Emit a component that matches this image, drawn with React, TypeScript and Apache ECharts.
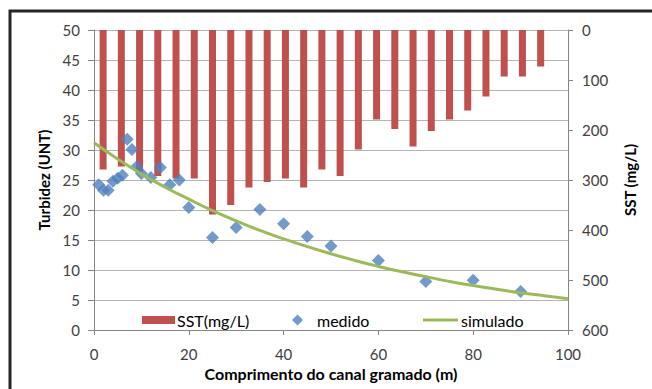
import React, { useEffect, useRef } from "react";
import * as echarts from "echarts";

// SST bars (secondary, inverted axis) — 26 slots, last one empty
const sstSlots = Array.from({ length: 26 }, (_, i) => String(i + 1));
const sstValues: (number | null)[] = [
  279, 273, 283, 292, 297, 297, 369, 350, 315, 304, 297, 315, 279,
  292, 239, 179, 198, 233, 202, 179, 161, 133, 93, 93, 73, null,
];

// medido (turbidity measured)
const medidoX = [1, 2, 3, 4, 5, 6, 7, 8, 9, 10, 12, 14, 16, 18, 20, 25, 30, 35, 40, 45, 50, 60, 70, 80, 90];
const medidoY = [24.2, 23.3, 23.3, 24.8, 25.3, 25.8, 31.8, 30.1, 27.2, 26.1, 25.4, 27.1, 24.2, 25.0, 20.4, 15.4, 17.1, 20.1, 17.7, 15.6, 14.0, 11.6, 8.1, 8.3, 6.4];

// simulado (turbidity simulated)
const simuladoX = [0, 5, 10, 15, 20, 25, 30, 35, 40, 45, 50, 55, 60, 65, 70, 75, 80, 85, 90, 95, 100];
const simuladoY = [31.2, 28.5, 26.0, 23.8, 21.8, 19.9, 18.2, 16.6, 15.2, 13.9, 12.7, 11.6, 10.6, 9.7, 8.9, 8.1, 7.4, 6.8, 6.2, 5.7, 5.2];

const FONT = "Lato";

export default function App() {
  const ref = useRef<HTMLDivElement>(null);
  useEffect(() => {
    if (!ref.current) return;
    const chart = echarts.init(ref.current, undefined, { renderer: "svg" });
    const labelStyle = { fontFamily: FONT, fontSize: 15, color: "#404040" };
    const legendBase = {
      top: 307,
      itemWidth: 33,
      itemHeight: 11,
      symbolKeepAspect: true,
    };
    chart.setOption({
      animation: false,
      backgroundColor: "#ffffff",
      graphic: [
        {
          type: "rect",
          shape: { x: 10, y: 11, width: 700, height: 420 },
          style: { fill: "none", stroke: "#262626", lineWidth: 3 },
          silent: true,
        },
      ],
      grid: { left: 94, right: 84, top: 30, bottom: 59, containLabel: false },
      legend: [
        {
          ...legendBase,
          left: 137,
          textStyle: { fontFamily: FONT, fontSize: 16, color: "#000", padding: [0, 0, 0, -3] },
          data: [{ name: "SST(mg/L)", icon: "path://M0,0h33v8h-33z", itemStyle: { color: "#c0504d" } }],
        },
        {
          ...legendBase,
          left: 287,
          textStyle: { fontFamily: FONT, fontSize: 16, color: "#000", padding: [0, 0, 0, -2] },
          data: [{ name: "medido", icon: "path://M5,0L10,5L5,10L0,5Z", itemStyle: { color: "#4f81bd" } }],
        },
        {
          ...legendBase,
          left: 418,
          itemWidth: 35,
          textStyle: { fontFamily: FONT, fontSize: 16, color: "#000", padding: [0, 0, 0, -2] },
          data: [{ name: "simulado", icon: "path://M0,0h35v3h-35z", itemStyle: { color: "#9bbb59" } }],
        },
      ],
      xAxis: [
        {
          type: "value",
          min: 0,
          max: 100,
          interval: 20,
          position: "bottom",
          name: "Comprimento do canal gramado (m)",
          nameLocation: "middle",
          nameGap: 28,
          nameTextStyle: { fontFamily: FONT, fontSize: 16, fontWeight: "bold", color: "#000" },
          axisLine: { show: true, lineStyle: { color: "#868686", width: 1 } },
          axisTick: { show: true, inside: false, length: 5, lineStyle: { color: "#868686" } },
          axisLabel: { ...labelStyle, margin: 16 },
          splitLine: { show: false },
        },
        {
          type: "category",
          data: sstSlots,
          show: false,
          boundaryGap: true,
        },
      ],
      yAxis: [
        {
          type: "value",
          min: 0,
          max: 50,
          interval: 5,
          position: "left",
          name: "Turbidez (UNT)",
          nameLocation: "middle",
          nameRotate: 90,
          nameGap: 42,
          nameTextStyle: { fontFamily: FONT, fontSize: 15, fontWeight: "bold", color: "#000" },
          axisLine: { show: true, lineStyle: { color: "#868686", width: 1 } },
          axisTick: { show: true, inside: false, length: 6, lineStyle: { color: "#868686" } },
          axisLabel: { ...labelStyle, margin: 14 },
          splitLine: { show: true, lineStyle: { color: "#b5b5b5", width: 1 } },
        },
        {
          type: "value",
          min: 0,
          max: 600,
          interval: 100,
          inverse: true,
          position: "right",
          name: "SST (mg/L)",
          nameLocation: "middle",
          nameRotate: 90,
          nameGap: 54,
          nameTextStyle: { fontFamily: FONT, fontSize: 15, fontWeight: "bold", color: "#000" },
          axisLine: { show: true, lineStyle: { color: "#868686", width: 1 } },
          axisTick: { show: true, inside: false, length: 5, lineStyle: { color: "#868686" } },
          axisLabel: { ...labelStyle, margin: 14 },
          splitLine: { show: false },
        },
      ],
      series: [
        {
          name: "SST(mg/L)",
          type: "bar",
          xAxisIndex: 1,
          yAxisIndex: 1,
          data: sstValues,
          barWidth: 7,
          itemStyle: { color: "#c0504d" },
          z: 1,
        },
        {
          name: "medido",
          type: "scatter",
          xAxisIndex: 0,
          yAxisIndex: 0,
          symbol: "diamond",
          symbolSize: 13,
          data: medidoX.map((x, i) => [x, medidoY[i]]),
          itemStyle: { color: "#4f81bd" },
          z: 3,
        },
        {
          name: "simulado",
          type: "line",
          xAxisIndex: 0,
          yAxisIndex: 0,
          smooth: true,
          symbol: "none",
          showSymbol: false,
          data: simuladoX.map((x, i) => [x, simuladoY[i]]),
          lineStyle: { color: "#9bbb59", width: 3 },
          itemStyle: { color: "#9bbb59" },
          z: 4,
        },
      ],
    });
    return () => chart.dispose();
  }, []);
  return (
    <div
      ref={ref}
      style={{ position: "fixed", left: 0, top: 0, width: 652, height: 389 }}
    />
  );
}
